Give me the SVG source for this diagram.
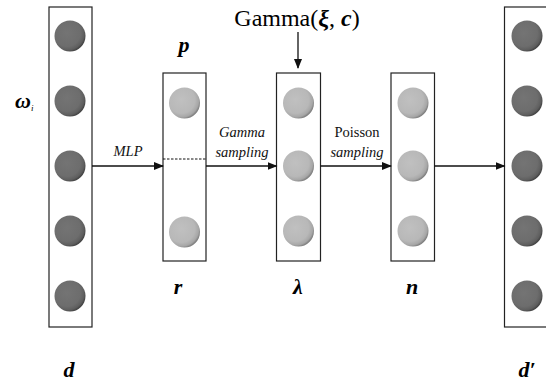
<svg xmlns="http://www.w3.org/2000/svg" width="546" height="383" viewBox="0 0 546 383" font-family="'Liberation Serif', serif">
<style>
text, tspan { font-family: 'Liberation Serif', serif; }
.box{fill:#fff;stroke:#222;stroke-width:1.2}
.conn{stroke:#111;stroke-width:1.3;fill:none}
.math{font-style:italic;font-weight:bold;fill:#000}
.lbl{fill:#111;font-size:14.5px}
.top{fill:#000;font-size:24px}
.it{font-style:italic}
.dark{fill:url(#gd)}
.light{fill:url(#gl)}
</style>
<defs>
<radialGradient id="gd" cx="0.4" cy="0.4" r="0.62">
<stop offset="0" stop-color="#747474"/>
<stop offset="0.7" stop-color="#6d6d6d"/>
<stop offset="0.9" stop-color="#5e5e5e"/>
<stop offset="1" stop-color="#444"/>
</radialGradient>
<radialGradient id="gl" cx="0.4" cy="0.4" r="0.62">
<stop offset="0" stop-color="#c0c0c0"/>
<stop offset="0.7" stop-color="#b8b8b8"/>
<stop offset="0.9" stop-color="#a6a6a6"/>
<stop offset="1" stop-color="#808080"/>
</radialGradient>
<marker id="ah" markerWidth="10" markerHeight="8" refX="9" refY="4" orient="auto" markerUnits="userSpaceOnUse">
<path d="M0,0 L10,4 L0,8 Z" fill="#111"/>
</marker>
</defs>

<g id="d">
<rect class="box" x="49" y="7" width="43" height="320"/>
<circle class="dark" cx="70" cy="36" r="15.5"/>
<circle class="dark" cx="70" cy="101" r="15.5"/>
<circle class="dark" cx="70" cy="166" r="15.5"/>
<circle class="dark" cx="70" cy="231" r="15.5"/>
<circle class="dark" cx="70" cy="296" r="15.5"/>
<text class="math" x="15" y="108" font-size="22">ω<tspan font-size="9" font-weight="normal" dy="3">i</tspan></text>
<text class="math" x="69" y="377" font-size="22" text-anchor="middle">d</text>
</g>

<g id="pr">
<rect class="box" x="163" y="73" width="43" height="188"/>
<line x1="163" y1="159" x2="206" y2="159" stroke="#111" stroke-width="1" stroke-dasharray="2.5,1.5"/>
<circle class="light" cx="184.5" cy="103" r="15.5"/>
<circle class="light" cx="184.5" cy="232" r="15.5"/>
<text class="math" x="184" y="52" font-size="22" text-anchor="middle">p</text>
<text class="math" x="178" y="294" font-size="22" text-anchor="middle">r</text>
</g>

<g id="lambda">
<rect class="box" x="276.5" y="73" width="44" height="188"/>
<circle class="light" cx="298.5" cy="103" r="15.5"/>
<circle class="light" cx="298.5" cy="166" r="15.5"/>
<circle class="light" cx="298.5" cy="231" r="15.5"/>
<text class="math" x="298" y="294" font-size="22" text-anchor="middle">λ</text>
</g>

<g id="n">
<rect class="box" x="391" y="73" width="43.5" height="188"/>
<circle class="light" cx="413" cy="103" r="15.5"/>
<circle class="light" cx="413" cy="166" r="15.5"/>
<circle class="light" cx="413" cy="231" r="15.5"/>
<text class="math" x="412" y="294" font-size="22" text-anchor="middle">n</text>
</g>

<g id="dprime">
<rect class="box" x="504.5" y="7" width="50" height="320"/>
<circle class="dark" cx="527" cy="36" r="15.5"/>
<circle class="dark" cx="527" cy="101" r="15.5"/>
<circle class="dark" cx="527" cy="166" r="15.5"/>
<circle class="dark" cx="527" cy="231" r="15.5"/>
<circle class="dark" cx="527" cy="296" r="15.5"/>
<text class="math" x="527" y="377" font-size="22" text-anchor="middle">d′</text>
</g>

<g id="gammaprior">
<text class="top" x="297" y="26" text-anchor="middle">Gamma(<tspan font-style="italic" font-weight="bold">ξ</tspan>, <tspan font-style="italic" font-weight="bold">c</tspan>)</text>
</g>

<g id="connectors">
<line class="conn" x1="92" y1="166" x2="163" y2="166" marker-end="url(#ah)"/>
<line class="conn" x1="206" y1="166" x2="276.5" y2="166" marker-end="url(#ah)"/>
<line class="conn" x1="320.5" y1="166" x2="391" y2="166" marker-end="url(#ah)"/>
<line class="conn" x1="434.5" y1="166" x2="504.5" y2="166" marker-end="url(#ah)"/>
<line class="conn" x1="298" y1="32" x2="298" y2="68" marker-end="url(#ah)"/>
<text class="lbl it" x="128" y="156" text-anchor="middle" font-size="17">MLP</text>
<text class="lbl it" x="242" y="137" text-anchor="middle">Gamma</text>
<text class="lbl it" x="242" y="157" text-anchor="middle">sampling</text>
<text class="lbl" x="357" y="137" text-anchor="middle">Poisson</text>
<text class="lbl it" x="357" y="157" text-anchor="middle">sampling</text>
</g>
</svg>
